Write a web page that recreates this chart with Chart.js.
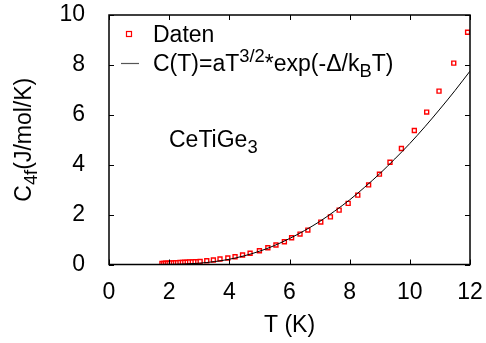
<!DOCTYPE html>
<html>
<head>
<meta charset="utf-8">
<script src="https://cdn.jsdelivr.net/npm/chart.js@4"></script>
<style>
  html, body { margin: 0; padding: 0; background: #fff; }
  canvas { display: block; }
</style>
</head>
<body>
<canvas id="grafico" width="486" height="343"></canvas>
<script>
// ===== Data =====
const tempDaten = [
  1.76, 1.82, 1.88, 1.94, 2.00, 2.07, 2.14, 2.21, 2.28, 2.36, 2.44, 2.52, 2.60, 2.68, 2.77, 2.86, 2.95,
  3.03, 3.25, 3.47, 3.69, 3.95, 4.19, 4.44, 4.69, 5.00, 5.28, 5.55, 5.83, 6.07, 6.35, 6.61,
  7.04, 7.36, 7.65, 7.95, 8.27, 8.63, 8.99, 9.34, 9.72, 10.15, 10.56, 10.97, 11.46, 11.92
];
const cDaten = [
  0.04, 0.04, 0.05, 0.05, 0.05, 0.06, 0.06, 0.07, 0.07, 0.08, 0.08, 0.09, 0.09, 0.10, 0.10, 0.11, 0.11,
  0.12, 0.15, 0.18, 0.22, 0.26, 0.31, 0.38, 0.45, 0.55, 0.67, 0.78, 0.91, 1.07, 1.22, 1.38,
  1.70, 1.91, 2.18, 2.45, 2.78, 3.19, 3.62, 4.10, 4.65, 5.37, 6.11, 6.95, 8.07, 9.31
];

// fit curve C(T) = a T^(3/2) exp(-D/kT), sampled
const tFit = [1.8, 2.0, 2.5, 3.0, 3.5, 4.0, 4.5, 5.0, 5.5, 6.0, 6.5, 7.0, 7.5, 8.0, 8.5, 9.0, 9.5, 10.0, 10.5, 11.0, 11.5, 12.0];
const cFit = [0.002, 0.004, 0.018, 0.052, 0.115, 0.21, 0.35, 0.53, 0.76, 1.04, 1.36, 1.72, 2.14, 2.59, 3.10, 3.64, 4.23, 4.85, 5.52, 6.23, 6.97, 7.75];

const xTickStep = 2;
const yTickStep = 2;

const FONT = '"Liberation Sans", Arial, sans-serif';
const FS = 23;
const ROT = '#ff0000';

// ===== Helpers =====
// draws text pieces with super/subscripts one after another
function drawRich(ctx, x, y, parts, size) {
  ctx.textBaseline = 'alphabetic';
  ctx.textAlign = 'left';
  let cx = x;
  parts.forEach(p => {
    const s = p.sup || p.sub ? size * 0.8 : size;
    ctx.font = `${s}px ${FONT}`;
    const dy = p.sup ? -size * 0.4 : (p.sub ? size * 0.25 : 0);
    ctx.fillText(p.t, cx, y + dy);
    cx += ctx.measureText(p.t).width;
  });
  return cx - x;
}

function richWidth(ctx, parts, size) {
  let w = 0;
  parts.forEach(p => {
    const s = p.sup || p.sub ? size * 0.8 : size;
    ctx.font = `${s}px ${FONT}`;
    w += ctx.measureText(p.t).width;
  });
  return w;
}

// ===== Plugins =====
const rahmen = {
  id: 'rahmen',
  afterDraw(chart) {
    const { ctx, chartArea: { left, right, top, bottom }, scales: { x, y } } = chart;
    ctx.save();
    ctx.strokeStyle = '#000';
    ctx.lineWidth = 1.5;
    ctx.strokeRect(left, top, right - left, bottom - top);
    ctx.lineWidth = 1;
    const tl = 5;
    ctx.beginPath();
    x.ticks.forEach(t => {
      const px = Math.round(x.getPixelForValue(t.value)) + 0.5;
      ctx.moveTo(px, bottom); ctx.lineTo(px, bottom - tl);
      ctx.moveTo(px, top); ctx.lineTo(px, top + tl);
    });
    y.ticks.forEach(t => {
      const py = Math.round(y.getPixelForValue(t.value)) + 0.5;
      ctx.moveTo(left, py); ctx.lineTo(left + tl, py);
      ctx.moveTo(right, py); ctx.lineTo(right - tl, py);
    });
    ctx.stroke();
    ctx.restore();
  }
};

const beschriftung = {
  id: 'beschriftung',
  afterDraw(chart) {
    const { ctx, chartArea: { top, bottom } } = chart;
    ctx.save();
    ctx.fillStyle = '#000';

    // legend
    ctx.strokeStyle = ROT;
    ctx.lineWidth = 1.2;
    ctx.fillStyle = '#fff';
    ctx.fillRect(126.5, 31.5, 5, 5);
    ctx.strokeRect(126.5, 31.5, 5, 5);
    ctx.fillStyle = '#000';
    ctx.font = `${FS}px ${FONT}`;
    ctx.textBaseline = 'alphabetic';
    ctx.fillText('Daten', 153, 42);

    ctx.strokeStyle = '#555';
    ctx.lineWidth = 1.2;
    ctx.beginPath();
    ctx.moveTo(121, 63.5);
    ctx.lineTo(139, 63.5);
    ctx.stroke();
    drawRich(ctx, 153, 71, [
      { t: 'C(T)=aT' }, { t: '3/2', sup: true }, { t: '*exp(-\u0394/k' }, { t: 'B', sub: true }, { t: 'T)' }
    ], FS);

    // sample name
    drawRich(ctx, 169, 147, [{ t: 'CeTiGe' }, { t: '3', sub: true }], FS);

    // y axis title
    const yTitel = [{ t: 'C' }, { t: '4f', sub: true }, { t: '(J/mol/K)' }];
    const w = richWidth(ctx, yTitel, FS);
    ctx.translate(31, (top + bottom) / 2 + w / 2);
    ctx.rotate(-Math.PI / 2);
    drawRich(ctx, 0, 0, yTitel, FS);

    ctx.restore();
  }
};

// ===== Chart =====
new Chart(document.getElementById('grafico'), {
  type: 'scatter',
  data: {
    datasets: [
      {
        label: 'Fit',
        data: tFit.map((t, i) => ({ x: t, y: cFit[i] })),
        showLine: true,
        borderColor: '#000',
        borderWidth: 1,
        pointRadius: 0,
        cubicInterpolationMode: 'monotone'
      },
      {
        label: 'Daten',
        data: tempDaten.map((t, i) => ({ x: t, y: cDaten[i] })),
        pointStyle: 'rect',
        pointRadius: 2.8,
        pointBorderWidth: 1.4,
        borderColor: ROT,
        backgroundColor: '#fff'
      }
    ]
  },
  options: {
    responsive: false,
    animation: false,
    events: [],
    layout: { padding: { top: 15, right: 16, left: 0, bottom: 0 } },
    plugins: {
      legend: { display: false },
      tooltip: { enabled: false }
    },
    scales: {
      x: {
        type: 'linear',
        min: 0,
        max: 12,
        grid: { display: false },
        border: { display: false },
        ticks: {
          stepSize: xTickStep,
          color: '#000',
          padding: 6,
          maxRotation: 0,
          font: { family: FONT, size: FS }
        },
        title: {
          display: true,
          text: 'T (K)',
          color: '#000',
          font: { family: FONT, size: FS },
          padding: { top: 0, bottom: 4 }
        },
        afterFit: (scale) => {
          scale.height = 78.5;
          scale.paddingLeft = 0;
          scale.paddingRight = 0;
        }
      },
      y: {
        type: 'linear',
        min: 0,
        max: 10,
        grid: { display: false },
        border: { display: false },
        ticks: {
          stepSize: yTickStep,
          color: '#000',
          padding: 16,
          font: { family: FONT, size: FS }
        },
        afterFit: (scale) => {
          scale.width = 109;
          scale.paddingTop = 0;
          scale.paddingBottom = 0;
        }
      }
    }
  },
  plugins: [rahmen, beschriftung]
});
</script>
</body>
</html>
